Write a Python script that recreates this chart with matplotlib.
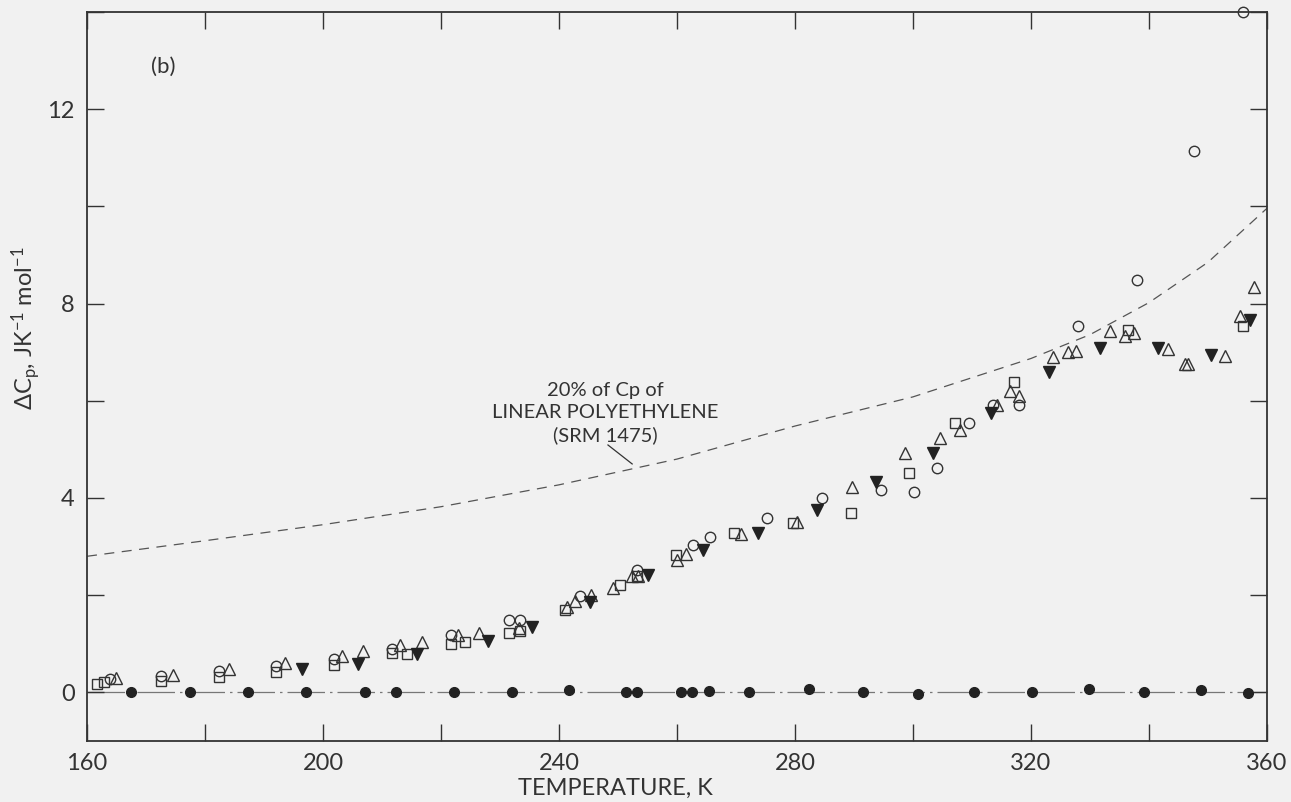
import numpy as np
import matplotlib
matplotlib.use("Agg")
import matplotlib.pyplot as plt
from matplotlib.ticker import MultipleLocator, FuncFormatter

plt.rcParams['font.family'] = ['Lato', 'DejaVu Sans']
plt.rcParams['mathtext.default'] = 'regular'
plt.rcParams['text.color'] = '#333333'
plt.rcParams['xtick.color'] = '#333333'
plt.rcParams['ytick.color'] = '#333333'
plt.rcParams['axes.labelcolor'] = '#333333'

# open circles
circ_T = [163.9, 172.5, 182.3, 192.1, 201.8, 211.7, 221.7, 231.6, 233.4, 243.6,
          253.2, 262.7, 265.6, 275.2, 284.6, 294.5, 300.1, 304.0, 309.5, 313.5,
          318.0, 327.9, 337.9, 347.6, 355.9]
circ_dCp = [0.27, 0.33, 0.44, 0.55, 0.68, 0.90, 1.19, 1.48, 1.48, 1.98,
            2.52, 3.03, 3.20, 3.59, 3.99, 4.16, 4.12, 4.62, 5.54, 5.91,
            5.92, 7.53, 8.49, 11.13, 14.0]

# open squares
sq_T = [161.7, 162.9, 172.5, 182.3, 192.1, 201.8, 211.7, 214.2, 221.7, 224.1,
        231.6, 233.4, 241.0, 250.3, 253.2, 259.8, 269.7, 279.6, 289.5, 299.3,
        307.2, 317.1, 336.5, 356.0]
sq_dCp = [0.18, 0.22, 0.23, 0.32, 0.42, 0.56, 0.80, 0.78, 1.00, 1.04,
          1.23, 1.27, 1.70, 2.21, 2.40, 2.82, 3.27, 3.48, 3.69, 4.51,
          5.55, 6.39, 7.46, 7.53]

# open triangles
tri_T = [164.9, 174.6, 184.1, 193.6, 203.3, 206.7, 213.1, 216.8, 222.9, 226.5,
         233.2, 241.4, 242.7, 245.4, 249.2, 252.3, 253.4, 260.0, 261.6, 270.8,
         280.3, 289.7, 298.7, 304.6, 308.0, 314.3, 316.4, 318.0, 323.7, 326.2,
         327.6, 333.4, 336.0, 337.5, 343.2, 346.1, 346.6, 352.9, 355.4, 357.8]
tri_dCp = [0.29, 0.35, 0.48, 0.61, 0.74, 0.85, 0.98, 1.04, 1.19, 1.22,
           1.33, 1.75, 1.89, 2.01, 2.15, 2.39, 2.39, 2.73, 2.84, 3.25,
           3.50, 4.23, 4.92, 5.23, 5.40, 5.91, 6.20, 6.09, 6.90, 7.00,
           7.03, 7.43, 7.34, 7.39, 7.06, 6.75, 6.75, 6.92, 7.74, 8.35]

# filled down triangles
dtri_T = [196.4, 206.0, 216.0, 228.0, 235.5, 245.3, 255.1, 264.4, 273.8, 283.7,
          293.7, 303.4, 313.3, 323.1, 331.7, 341.6, 350.5, 357.1]
dtri_dCp = [0.49, 0.59, 0.78, 1.05, 1.34, 1.85, 2.41, 2.92, 3.27, 3.76,
            4.33, 4.93, 5.74, 6.59, 7.09, 7.09, 6.95, 7.66]

# filled circles
fc_T = [167.4, 177.4, 187.3, 197.2, 207.1, 212.3, 222.2, 232.0, 241.7, 251.3,
        253.2, 260.6, 262.5, 265.4, 272.2, 282.4, 291.6, 300.9, 310.4, 320.1,
        329.8, 339.2, 348.8, 356.8]
fc_dCp = [0.0, 0.0, 0.0, 0.0, 0.0, 0.0, 0.0, 0.0, 0.05, 0.0,
          0.0, 0.0, 0.0, 0.03, 0.0, 0.06, 0.0, -0.04, 0.0, 0.0,
          0.07, 0.0, 0.04, -0.02]

# 20% of Cp of linear polyethylene (SRM 1475)
pe_T = [160, 180, 200, 220, 240, 260, 280, 300, 320, 330, 340, 350, 360]
pe_dCp = [2.80, 3.12, 3.45, 3.82, 4.27, 4.80, 5.48, 6.08, 6.87, 7.36, 8.02, 8.85, 9.96]

ink = '#333333'
bg = '#f1f1f1'

fig = plt.figure(figsize=(12.91, 8.02), dpi=100, facecolor=bg)
ax = fig.add_axes([0.0674, 0.0761, 0.914, 0.909], facecolor=bg)

ax.axhline(0, color='#777777', lw=0.9, linestyle=(0, (30, 4, 2, 4)), zorder=1)
ax.plot(pe_T, pe_dCp, color='#555555', lw=0.9, linestyle=(0, (8, 6)), zorder=1)

ms = 7.5
ax.plot(circ_T, circ_dCp, 'o', ms=ms, mfc='none', mec=ink, mew=1.0, clip_on=False, zorder=3)
ax.plot(sq_T, sq_dCp, 's', ms=ms - 1, mfc='none', mec=ink, mew=1.0, zorder=3)
ax.plot(tri_T, tri_dCp, '^', ms=ms + 0.5, mfc='none', mec=ink, mew=1.0, zorder=3)
ax.plot(dtri_T, dtri_dCp, 'v', ms=ms + 0.5, mfc='#222222', mec='#222222', mew=1.0, zorder=3)
ax.plot(fc_T, fc_dCp, 'o', ms=ms - 0.5, mfc='#222222', mec='#222222', zorder=3)

ax.set_xlim(160, 360)
ax.set_ylim(-1, 14)

ax.xaxis.set_major_locator(MultipleLocator(20))
ax.yaxis.set_major_locator(MultipleLocator(2))
ax.xaxis.set_major_formatter(FuncFormatter(lambda v, p: '%d' % v if round(v) % 40 == 0 else ''))
ax.yaxis.set_major_formatter(FuncFormatter(lambda v, p: '%d' % v if round(v) % 4 == 0 else ''))
ax.tick_params(direction='in', length=12, width=1.0, top=True, right=True,
               labelsize=17, pad=9)

for s in ax.spines.values():
    s.set_color(ink)
    s.set_linewidth(1.3)

ax.set_xlabel('TEMPERATURE, K', fontsize=17)
ax.xaxis.set_label_coords(0.448, -0.05)
ax.set_ylabel('ΔC$_p$, JK$^{-1}$ mol$^{-1}$', fontsize=17)
ax.yaxis.set_label_coords(-0.037, 0.566)

ax.text(173, 12.86, '(b)', fontsize=16, ha='center', va='center')

ax.text(247.8, 5.75, '20% of Cp of\nLINEAR POLYETHYLENE\n(SRM 1475)', fontsize=14.5,
        ha='center', va='center', linespacing=1.35)
ax.plot([248.3, 252.4], [5.09, 4.70], color=ink, lw=0.9)

fig.savefig('out.png', dpi=100, facecolor=bg)
